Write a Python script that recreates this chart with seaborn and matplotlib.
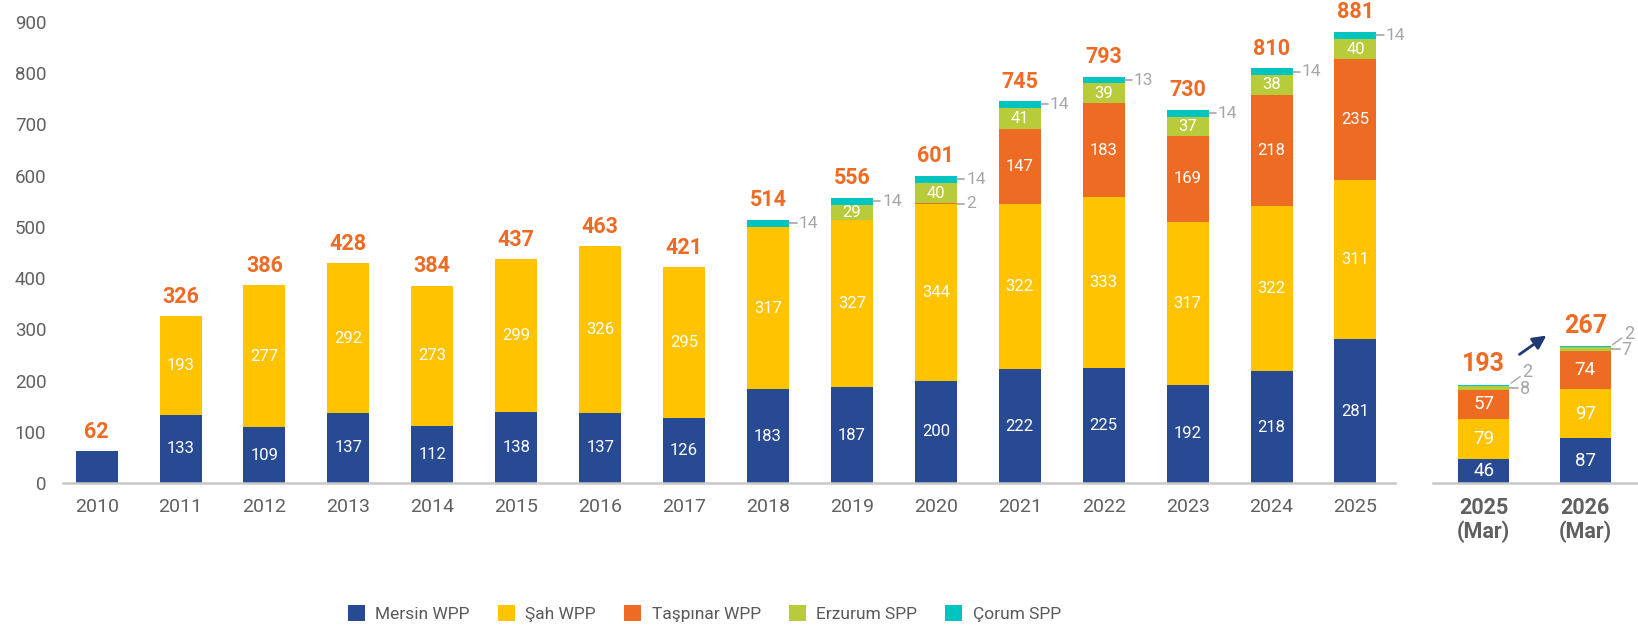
import numpy as np
import pandas as pd
import matplotlib
matplotlib.use("Agg")
import matplotlib.pyplot as plt
import seaborn as sns
from matplotlib.patches import Patch

sns.set_style("white")
plt.rcParams['font.family'] = ['Roboto', 'DejaVu Sans']

# yearly data
years = ['2010', '2011', '2012', '2013', '2014', '2015', '2016', '2017',
         '2018', '2019', '2020', '2021', '2022', '2023', '2024', '2025']
mersin = [62, 133, 109, 137, 112, 138, 137, 126, 183, 187, 200, 222, 225, 192, 218, 281]
sah = [0, 193, 277, 292, 273, 299, 326, 295, 317, 327, 344, 322, 333, 317, 322, 311]
taspinar = [0, 0, 0, 0, 0, 0, 0, 0, 0, 0, 2, 147, 183, 169, 218, 235]
erzurum = [0, 0, 0, 0, 0, 0, 0, 0, 0, 29, 40, 41, 39, 37, 38, 40]
corum = [0, 0, 0, 0, 0, 0, 0, 0, 14, 14, 14, 14, 13, 14, 14, 14]
totals = [62, 326, 386, 428, 384, 437, 463, 421, 514, 556, 601, 745, 793, 730, 810, 881]

# quarterly data
quarters = ['2025\n(Mar)', '2026\n(Mar)']
q_mersin = [46, 87]
q_sah = [79, 97]
q_taspinar = [57, 74]
q_erzurum = [8, 7]
q_corum = [2, 2]
q_totals = [193, 267]

names = ['Mersin WPP', 'Şah WPP', 'Taşpınar WPP', 'Erzurum SPP', 'Çorum SPP']
colors = ['#274A92', '#FFC300', '#EE6B23', '#B8CB3B', '#00C4BF']

ORANGE = '#EE6B23'
GRAY_TXT = '#606060'
GRAY_LBL = '#A6A6A6'

fig = plt.figure(figsize=(16.38, 6.26), dpi=100)
ax = fig.add_axes([0.0385, 0.2284, 0.8131, 0.7365])
ax2 = fig.add_axes([0.8748, 0.2284, 0.1252, 0.7365])


def stacked(axis, cats, layers, width):
    df = pd.DataFrame({'cat': cats})
    cum = np.zeros(len(cats))
    cums = []
    for vals in layers:
        cum = cum + np.array(vals)
        cums.append(cum.copy())
    # draw from top down so each lower layer covers the previous one
    for i in range(len(layers) - 1, -1, -1):
        df['v'] = cums[i]
        sns.barplot(data=df, x='cat', y='v', color=colors[i], width=width,
                    saturation=1, linewidth=0, ax=axis, order=cats)
    return cums


layers = [mersin, sah, taspinar, erzurum, corum]
cums = stacked(ax, years, layers, 0.5)
q_layers = [q_mersin, q_sah, q_taspinar, q_erzurum, q_corum]
q_cums = stacked(ax2, quarters, q_layers, 0.5)

for a in (ax, ax2):
    a.set_xlabel('')
    a.set_ylabel('')
    a.set_ylim(0, 900)
    for s in ['top', 'right', 'left']:
        a.spines[s].set_visible(False)
    a.spines['bottom'].set_color('#C8C8C8')
    a.spines['bottom'].set_linewidth(1.8)
    a.tick_params(length=0)

ax.set_xlim(-0.4, 15.47)
ax2.set_xlim(-0.5, 1.52)
ax.set_yticks(range(0, 901, 100))
ax.tick_params(axis='y', labelsize=13.5, labelcolor=GRAY_TXT, pad=12)
ax.tick_params(axis='x', labelsize=14, labelcolor=GRAY_TXT, pad=11)
ax2.set_yticks([])
ax2.tick_params(axis='x', labelsize=15.5, labelcolor=GRAY_TXT, pad=10)
for t in ax2.get_xticklabels():
    t.set_linespacing(1.1)
    t.set_fontweight('bold')

# yearly labels
for i in range(len(years)):
    bottoms = [0] + [cums[k][i] for k in range(4)]
    n_layers = sum(1 for L in layers if L[i] > 0)
    for k, L in enumerate(layers):
        v = L[i]
        if v == 0:
            continue
        mid = bottoms[k] + v / 2
        if v >= 25 and n_layers > 1:
            ax.text(i, mid, str(v), ha='center', va='center', color='white',
                    fontsize=12)
        elif v < 25:
            ax.plot([i + 0.25, i + 0.34], [mid, mid], color=GRAY_LBL, lw=1.2,
                    clip_on=False)
            ax.text(i + 0.36, mid, str(v), ha='left', va='center',
                    color=GRAY_LBL, fontsize=12.5)
    ax.annotate(str(totals[i]), (i, cums[4][i]), xytext=(0, 6),
                textcoords='offset points', ha='center', va='bottom',
                color=ORANGE, fontsize=15.5, fontweight='bold',
                annotation_clip=False)

# quarterly labels
for i in range(len(quarters)):
    bottoms = [0] + [q_cums[k][i] for k in range(4)]
    for k in range(3):
        v = q_layers[k][i]
        ax2.text(i, bottoms[k] + v / 2, str(v), ha='center', va='center',
                 color='white', fontsize=13.5)
    emid = bottoms[3] + q_erzurum[i] / 2
    ax2.plot([i + 0.25, i + 0.34], [emid, emid], color=GRAY_LBL, lw=1.2)
    ax2.text(i + 0.36, emid - 2, str(q_erzurum[i]), ha='left', va='center',
             color=GRAY_LBL, fontsize=13)
    top = q_cums[4][i]
    ax2.plot([i + 0.27, i + 0.36], [top + 3, top + 16], color=GRAY_LBL, lw=1.0)
    ax2.text(i + 0.38, top + 24, str(q_corum[i]), ha='left', va='center',
             color=GRAY_LBL, fontsize=13)
    ax2.annotate(str(q_totals[i]), (i, top), xytext=(0, 6),
                 textcoords='offset points', ha='center', va='bottom',
                 color=ORANGE, fontsize=18, fontweight='bold')

ax2.annotate('', xy=(0.64, 291), xytext=(0.33, 248),
             arrowprops=dict(arrowstyle='-|>', color='#1F3A73', lw=2,
                             mutation_scale=20))

handles = [Patch(facecolor=c, edgecolor='none') for c in colors]
fig.legend(handles, names, loc='center', bbox_to_anchor=(0.43, 0.02),
           ncol=5, frameon=False, fontsize=12.5, labelcolor='#595959',
           handlelength=1.0, handleheight=1.0, handletextpad=0.6,
           columnspacing=1.6)

fig.savefig('out.png', dpi=100)
